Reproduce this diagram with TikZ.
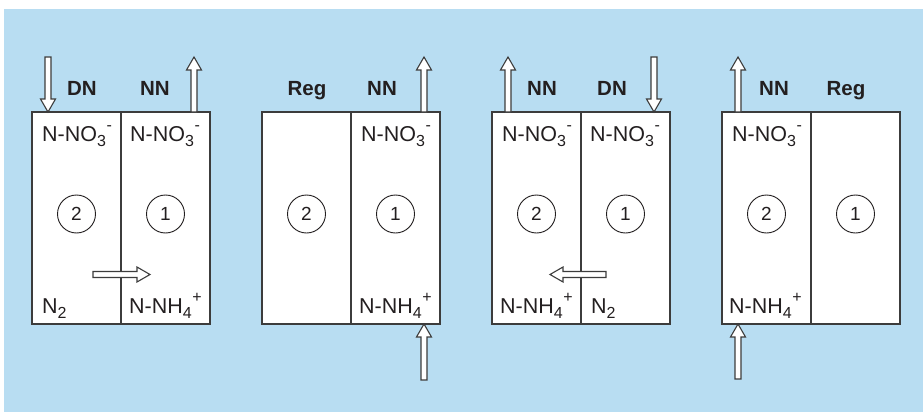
\documentclass[tikz,border=0pt]{standalone}
\usepackage{fontspec}
\setmainfont{Liberation Sans}
\definecolor{bgblue}{RGB}{184,221,242}
\definecolor{ink}{RGB}{35,31,32}
\definecolor{edge}{RGB}{60,60,60}
\newcommand\mysub[1]{\raisebox{-0.27em}{\fontsize{16}{17}\selectfont #1}}
\newcommand\mysup[1]{\raisebox{0.5em}{\fontsize{16}{17}\selectfont #1}}
\newcommand\nno{N-NO\mysub{3}\kern0.5pt\mysup{-}}
\newcommand\nnh{N-NH\mysub{4}\kern0.5pt\mysup{+}}
\begin{document}
\begin{tikzpicture}[x=1pt,y=-1pt,
  half/.style={draw=edge,line width=1.3pt,fill=white,minimum width=89pt,minimum height=212pt,inner sep=0pt,outer sep=0pt},
  chem/.style={text=ink,font=\fontsize{21.5}{24}\selectfont,inner sep=0pt,anchor=base west},
  lab/.style={text=ink,font=\fontsize{20.5}{24}\selectfont\bfseries,inner sep=0pt,anchor=base},
  num/.style={draw=ink,line width=0.9pt,circle,minimum size=38pt,inner sep=0pt,text=ink,font=\fontsize{19}{22}\selectfont},
  arrowsty/.style={draw=edge,line width=1.1pt,fill=white,line join=miter},
  pics/barrow/.style={code={\path[arrowsty] (0,-3) -- (#1-13,-3) -- (#1-13,-7.5) -- (#1,0) -- (#1-13,7.5) -- (#1-13,3) -- (0,3) -- cycle;}}
]
\useasboundingbox (0,0) rectangle (923,412);
\fill[bgblue] (4,9) rectangle (923,412);

% ---------- Box 1 ----------
\node[half] (b1l) at (76.5,218) {};
\node[half] (b1r) at (165.5,218) {};
\node[num] (c1a) at (76.5,214) {2};
\node[num] (c1b) at (165.5,214) {1};
\node[chem] (t1a) at (42,141) {\nno};
\node[chem] (t1b) at (130,141) {\nno};
\node[chem] (t1c) at (42,313) {N\mysub{2}};
\node[chem] (t1d) at (129,313) {\nnh};
\node[lab] (l1a) at (82,95) {DN};
\node[lab] (l1b) at (155,95) {NN};
\coordinate (a1s) at (48,57);
\coordinate (a2s) at (194,112);
\coordinate (a3s) at (93,274.5);
\pic[rotate=-90] at (a1s) {barrow=55};
\pic[rotate=90] at (a2s) {barrow=55};
\pic at (a3s) {barrow=57};

% ---------- Box 2 ----------
\node[half] (b2l) at (306.5,218) {};
\node[half] (b2r) at (395.5,218) {};
\node[num] (c2a) at (306.5,214) {2};
\node[num] (c2b) at (395.5,214) {1};
\node[chem] (t2a) at (361,141) {\nno};
\node[chem] (t2b) at (359,313) {\nnh};
\node[lab] (l2a) at (307,95) {Reg};
\node[lab] (l2b) at (382,95) {NN};
\coordinate (a4s) at (424,112);
\coordinate (a5s) at (424,380);
\pic[rotate=90] at (a4s) {barrow=55};
\pic[rotate=90] at (a5s) {barrow=56};

% ---------- Box 3 ----------
\node[half] (b3l) at (536.5,218) {};
\node[half] (b3r) at (625.5,218) {};
\node[num] (c3a) at (536.5,214) {2};
\node[num] (c3b) at (625.5,214) {1};
\node[chem] (t3a) at (502,141) {\nno};
\node[chem] (t3b) at (590,141) {\nno};
\node[chem] (t3c) at (500,313) {\nnh};
\node[chem] (t3d) at (591,313) {N\mysub{2}};
\node[lab] (l3a) at (542,95) {NN};
\node[lab] (l3b) at (612,95) {DN};
\coordinate (a6s) at (508,112);
\coordinate (a7s) at (654,57);
\coordinate (a8s) at (606,274.5);
\pic[rotate=90] at (a6s) {barrow=55};
\pic[rotate=-90] at (a7s) {barrow=55};
\pic[rotate=180] at (a8s) {barrow=56};

% ---------- Box 4 ----------
\node[half] (b4l) at (766.5,218) {};
\node[half] (b4r) at (855.5,218) {};
\node[num] (c4a) at (766.5,214) {2};
\node[num] (c4b) at (855.5,214) {1};
\node[chem] (t4a) at (732,141) {\nno};
\node[chem] (t4b) at (729,313) {\nnh};
\node[lab] (l4a) at (774,95) {NN};
\node[lab] (l4b) at (846,95) {Reg};
\coordinate (a9s) at (738,112);
\coordinate (a10s) at (738,379);
\pic[rotate=90] at (a9s) {barrow=55};
\pic[rotate=90] at (a10s) {barrow=55};
\end{tikzpicture}
\end{document}
